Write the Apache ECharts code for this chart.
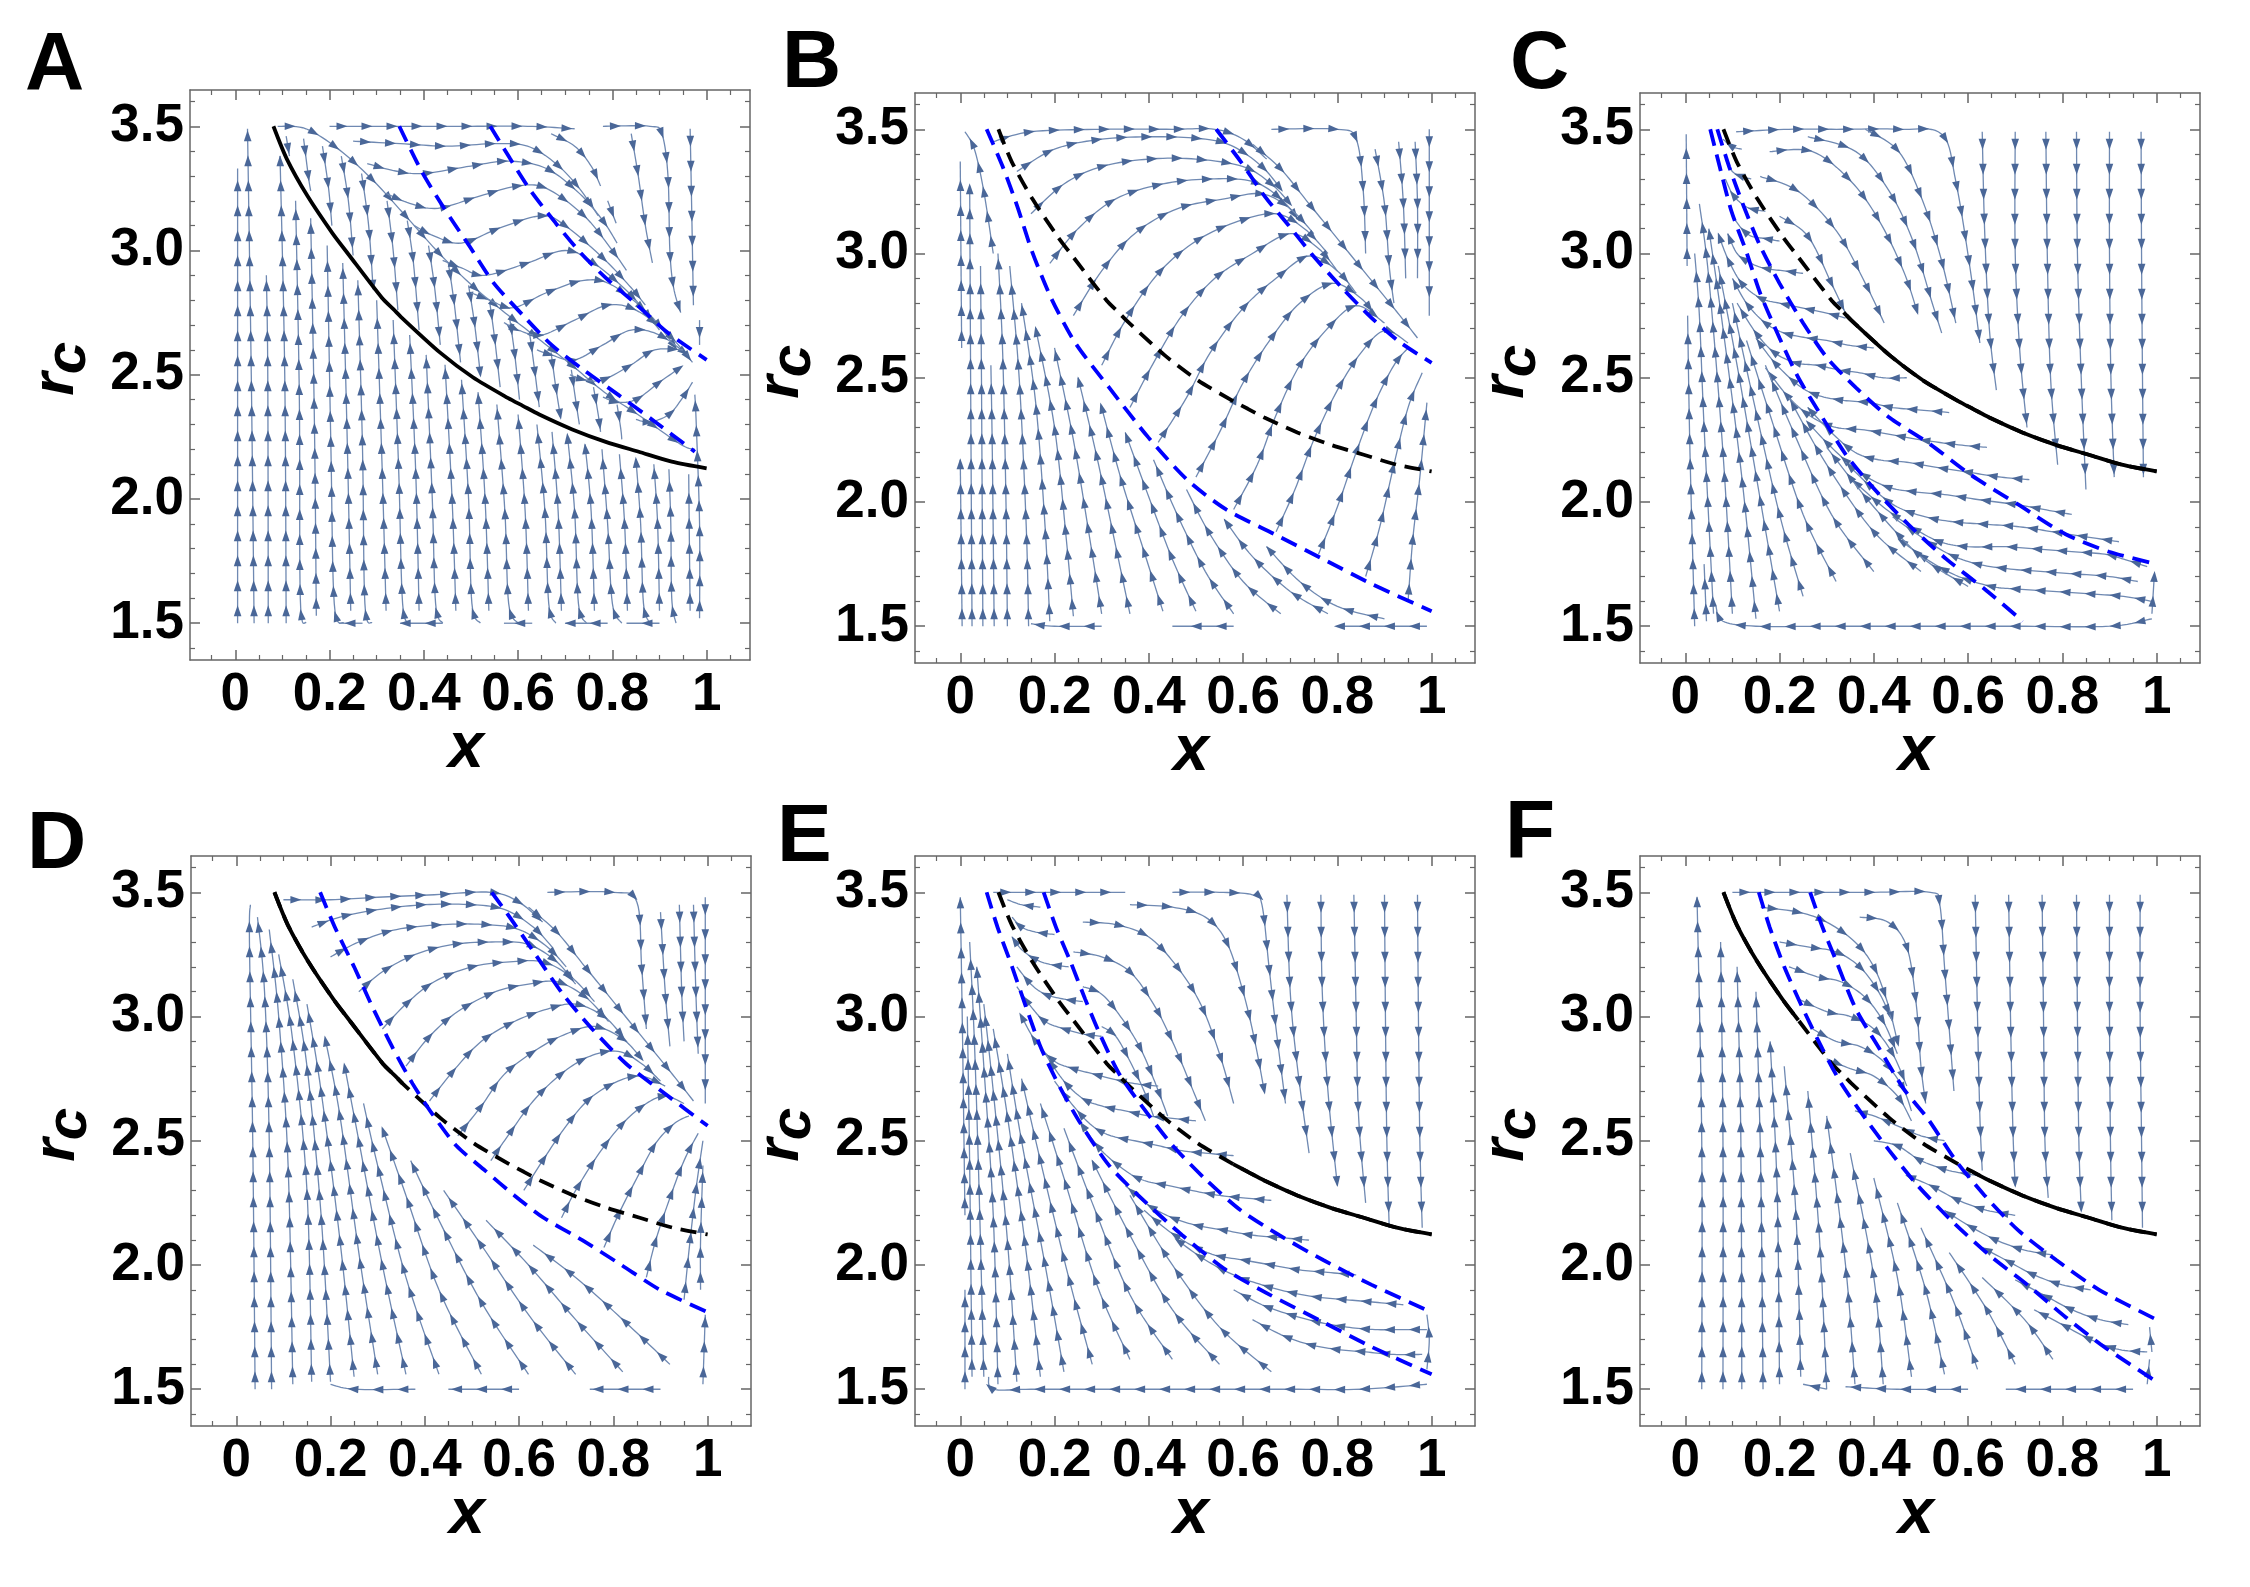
<!DOCTYPE html>
<html>
<head>
<meta charset="utf-8">
<script src="https://cdn.jsdelivr.net/npm/echarts@6.0.0/dist/echarts.min.js"></script>
<style>
  html, body { margin: 0; padding: 0; background: #fff; }
  #main { width: 2250px; height: 1587px; }
</style>
</head>
<body>
<div id="main"></div>
<script>
// axis ticks
var X_TICKS = [0, 0.2, 0.4, 0.6, 0.8, 1];
var X_TICK_LABELS = ['0', '0.2', '0.4', '0.6', '0.8', '1'];
var X_MINOR = [-0.05, 0.05, 0.1, 0.15, 0.25, 0.3, 0.35, 0.45, 0.5, 0.55, 0.65, 0.7, 0.75, 0.85, 0.9, 0.95, 1.05];
var R_TICKS = [1.5, 2.0, 2.5, 3.0, 3.5];
var R_TICK_LABELS = ['1.5', '2.0', '2.5', '3.0', '3.5'];
var R_MINOR = [1.4, 1.6, 1.7, 1.8, 1.9, 2.1, 2.2, 2.3, 2.4, 2.6, 2.7, 2.8, 2.9, 3.1, 3.2, 3.3, 3.4, 3.6];
var PANEL_LABELS = ['A', 'B', 'C', 'D', 'E', 'F'];

// black curve (same in every panel), and where it is drawn solid
var BLACK_X = [0.081, 0.109, 0.153, 0.206, 0.24, 0.311, 0.336, 0.353, 0.434, 0.504, 0.579, 0.61, 0.645, 0.715, 0.786, 0.856, 0.926, 1.0];
var BLACK_R = [3.5, 3.37, 3.22, 3.07, 2.985, 2.81, 2.763, 2.73, 2.59, 2.49, 2.406, 2.375, 2.34, 2.28, 2.23, 2.19, 2.15, 2.123];
var BLACK_SOLID = [[[0.081, 1]], [], [[0.336, 1]], [[0.081, 0.353]], [[0.579, 1]], [[0.081, 0.24], [0.61, 1]]];

// blue dashed curves, "x,r" pairs
var BLUE_A = ['0.348,3.5 0.395,3.32 0.443,3.17 0.496,3.02 0.548,2.87 0.61,2.74 0.671,2.62 0.742,2.515 0.812,2.42 0.891,2.31 0.975,2.19',
  '0.541,3.5 0.583,3.37 0.627,3.24 0.68,3.11 0.733,2.99 0.786,2.89 0.847,2.79 0.917,2.67 1.0,2.56'];
var BLUE_B = ['0.056,3.5 0.09,3.35 0.121,3.19 0.152,3.01 0.193,2.82 0.244,2.64 0.316,2.46 0.399,2.26 0.481,2.09 0.564,1.97 0.667,1.87 0.77,1.77 0.873,1.67 1.0,1.56',
  '0.543,3.5 0.595,3.37 0.646,3.23 0.698,3.11 0.749,2.99 0.811,2.86 0.873,2.74 0.935,2.64 1.0,2.56'];
var BLUE_C = ['0.053,3.5 0.073,3.35 0.098,3.17 0.129,3.01 0.159,2.84 0.2,2.66 0.24,2.5 0.291,2.34 0.341,2.19 0.402,2.05 0.473,1.91 0.554,1.77 0.635,1.65 0.716,1.52',
  '0.068,3.5 0.093,3.35 0.124,3.19 0.159,3.03 0.2,2.88 0.25,2.72 0.301,2.58 0.362,2.46 0.433,2.34 0.514,2.24 0.605,2.11 0.706,1.99 0.807,1.87 0.899,1.8 1.0,1.75'];
var BLUE_D = ['0.178,3.5 0.209,3.36 0.25,3.2 0.291,3.03 0.333,2.87 0.374,2.73 0.415,2.61 0.467,2.48 0.528,2.38 0.59,2.28 0.652,2.19 0.734,2.1 0.817,2.0 0.899,1.9 1.0,1.81',
  '0.542,3.5 0.58,3.4 0.631,3.26 0.693,3.09 0.755,2.95 0.827,2.81 0.909,2.69 1.0,2.56'];
var BLUE_E = ['0.056,3.5 0.079,3.36 0.11,3.2 0.141,3.03 0.172,2.87 0.213,2.71 0.255,2.57 0.316,2.4 0.389,2.26 0.471,2.12 0.564,1.98 0.657,1.88 0.77,1.77 0.873,1.67 1.0,1.56',
  '0.177,3.5 0.203,3.36 0.234,3.22 0.265,3.07 0.296,2.93 0.337,2.77 0.389,2.63 0.451,2.48 0.523,2.34 0.595,2.22 0.677,2.12 0.77,2.02 0.873,1.92 1.0,1.81'];
var BLUE_F = ['0.156,3.5 0.179,3.36 0.21,3.2 0.25,3.03 0.291,2.87 0.331,2.73 0.382,2.59 0.433,2.46 0.493,2.32 0.564,2.18 0.645,2.04 0.726,1.92 0.807,1.79 0.889,1.67 1.0,1.53',
  '0.265,3.5 0.291,3.36 0.321,3.22 0.362,3.03 0.412,2.87 0.463,2.71 0.514,2.59 0.574,2.42 0.635,2.28 0.706,2.14 0.787,2.02 0.878,1.9 1.0,1.78'];

// stream lines, "x,r" pairs in flow order
var STREAMS_A = [
  '0.005,1.5 0.005,3.33', '0.04,1.5 0.034,2.5 0.026,3.49', '0.07,1.5 0.069,2.5 0.066,2.9',
  '0.108,1.5 0.105,2.5 0.095,3.38', '0.15,1.5 0.138,1.6 0.136,2.4 0.128,3.2', '0.172,1.53 0.168,2.3 0.16,3.13',
  '0.23,1.5 0.21,1.58 0.203,2.2 0.195,3.02', '0.245,1.55 0.238,2.2 0.228,2.95', '0.29,1.5 0.275,1.58 0.27,2.2 0.26,2.88',
  '0.32,1.55 0.312,2.1 0.3,2.8', '0.37,1.5 0.355,1.58 0.347,2.1 0.335,2.72', '0.39,1.55 0.383,2.1 0.37,2.66',
  '0.44,1.5 0.425,1.58 0.418,2.0 0.405,2.58', '0.468,1.55 0.46,2.0 0.445,2.54', '0.52,1.5 0.502,1.58 0.495,2.0 0.48,2.48',
  '0.538,1.55 0.53,2.0 0.515,2.43', '0.6,1.5 0.58,1.58 0.572,1.95 0.555,2.38', '0.622,1.55 0.615,1.95 0.6,2.34',
  '0.68,1.5 0.665,1.58 0.657,1.95 0.64,2.3', '0.692,1.55 0.685,1.95 0.672,2.27', '0.745,1.5 0.728,1.58 0.72,1.95 0.705,2.25',
  '0.762,1.55 0.755,1.95 0.742,2.22', '0.82,1.5 0.8,1.58 0.79,1.9 0.778,2.2', '0.832,1.55 0.826,1.9 0.815,2.18',
  '0.88,1.5 0.866,1.58 0.86,1.9 0.85,2.16', '0.9,1.55 0.896,1.9 0.888,2.14', '0.935,1.5 0.926,1.6 0.924,1.9 0.92,2.12',
  '0.965,1.55 0.963,1.9 0.962,2.1', '0.985,1.52 0.985,1.9 0.978,2.3 0.975,2.42',
  '0.27,1.5 0.22,1.5', '0.44,1.5 0.35,1.5', '0.63,1.5 0.57,1.5', '0.79,1.5 0.7,1.5', '0.9,1.5 0.83,1.5',
  '0.108,3.46 0.115,3.38', '0.145,3.45 0.155,3.3 0.16,3.24', '0.185,3.42 0.198,3.25 0.205,3.1',
  '0.225,3.38 0.24,3.2 0.25,2.98', '0.268,3.31 0.283,3.1 0.292,2.86', '0.322,3.2 0.335,3.0 0.345,2.76',
  '0.365,3.12 0.378,2.95 0.39,2.68', '0.41,3.02 0.423,2.85 0.435,2.62', '0.452,2.95 0.465,2.78 0.478,2.55',
  '0.495,2.86 0.508,2.7 0.52,2.5', '0.54,2.79 0.55,2.65 0.562,2.45', '0.582,2.73 0.593,2.58 0.603,2.4',
  '0.625,2.66 0.635,2.52 0.645,2.37', '0.67,2.59 0.68,2.45 0.69,2.33', '0.713,2.52 0.722,2.4 0.73,2.3',
  '0.76,2.45 0.77,2.34 0.775,2.27', '0.81,2.38 0.818,2.28 0.82,2.24',
  '0.09,3.5 0.15,3.49 0.221,3.405 0.291,3.285 0.361,3.14 0.432,2.99 0.502,2.86 0.572,2.75 0.643,2.645 0.713,2.54 0.783,2.43 0.854,2.34 0.945,2.22 0.975,2.2',
  '0.2,3.5 0.35,3.5 0.5,3.5 0.62,3.5 0.72,3.49',
  '0.78,3.5 0.88,3.5 0.905,3.47 0.918,3.3 0.922,3.0 0.93,2.85 0.945,2.75',
  '0.84,3.47 0.855,3.3 0.87,3.1 0.885,2.95', '0.965,3.49 0.968,3.2 0.972,2.78', '0.985,2.72 0.985,2.62',
  '0.67,3.47 0.72,3.42 0.755,3.34 0.775,3.26', '0.79,3.2 0.808,3.11',
  '0.25,3.44 0.35,3.43 0.45,3.42 0.55,3.43 0.62,3.42 0.68,3.35 0.73,3.25 0.77,3.14',
  '0.28,3.35 0.34,3.32 0.4,3.31 0.5,3.34 0.58,3.36 0.66,3.33 0.73,3.23 0.78,3.12 0.81,3.03',
  '0.32,3.23 0.37,3.19 0.43,3.17 0.52,3.22 0.6,3.26 0.66,3.25 0.74,3.14 0.8,3.0 0.83,2.92',
  '0.38,3.1 0.42,3.06 0.48,3.03 0.56,3.09 0.65,3.14 0.7,3.1 0.78,2.97 0.84,2.85 0.87,2.78',
  '0.44,2.96 0.48,2.93 0.53,2.9 0.62,2.95 0.7,3.0 0.76,2.95 0.84,2.82 0.9,2.68',
  '0.5,2.83 0.54,2.8 0.59,2.77 0.66,2.83 0.74,2.88 0.8,2.86 0.88,2.74 0.93,2.62',
  '0.57,2.71 0.6,2.68 0.65,2.66 0.72,2.72 0.79,2.78 0.85,2.76 0.92,2.66 0.97,2.55',
  '0.64,2.6 0.67,2.58 0.72,2.56 0.78,2.62 0.84,2.68 0.9,2.66 0.96,2.58',
  '0.71,2.5 0.74,2.48 0.78,2.48 0.84,2.54 0.89,2.6 0.95,2.6',
  '0.78,2.41 0.81,2.39 0.85,2.4 0.9,2.47 0.945,2.53',
  '0.85,2.32 0.88,2.31 0.92,2.34 0.95,2.41 0.97,2.47'
];
var STREAMS_B = [
  '0.004,1.5 0.0,2.17', '0.003,2.62 0.0,3.37', '0.025,1.5 0.022,2.5 0.02,3.27', '0.048,1.5 0.045,2.5 0.043,2.95',
  '0.07,3.0 0.05,3.25 0.03,3.42 0.01,3.49', '0.072,1.5 0.068,2.2 0.065,2.55', '0.1,1.5 0.097,2.0 0.09,2.6 0.08,3.0',
  '0.145,1.5 0.14,1.9 0.125,2.5 0.105,2.95', '0.19,1.52 0.18,1.9 0.16,2.4 0.13,2.8', '0.24,1.54 0.225,1.85 0.2,2.3 0.16,2.7',
  '0.3,1.55 0.275,1.85 0.24,2.25 0.2,2.62', '0.36,1.55 0.33,1.82 0.29,2.18 0.25,2.5', '0.43,1.56 0.39,1.8 0.34,2.1 0.3,2.38',
  '0.5,1.56 0.45,1.77 0.4,2.02 0.35,2.28', '0.58,1.55 0.52,1.72 0.46,1.95 0.41,2.17', '0.68,1.55 0.6,1.68 0.53,1.87 0.48,2.05',
  '0.78,1.55 0.7,1.64 0.62,1.78 0.56,1.93', '0.9,1.53 0.8,1.58 0.72,1.68 0.65,1.82',
  '0.99,1.5 0.9,1.5 0.8,1.5', '0.58,1.5 0.45,1.5', '0.3,1.5 0.2,1.5 0.15,1.51',
  '0.07,3.45 0.15,3.49 0.3,3.5 0.45,3.5 0.54,3.5 0.6,3.46 0.65,3.38',
  '0.12,3.33 0.2,3.42 0.3,3.46 0.42,3.47 0.52,3.46 0.58,3.43 0.64,3.35 0.68,3.26',
  '0.15,3.16 0.22,3.28 0.3,3.35 0.4,3.38 0.5,3.38 0.6,3.35 0.66,3.28 0.7,3.2',
  '0.19,2.96 0.25,3.1 0.33,3.22 0.43,3.28 0.53,3.3 0.62,3.29 0.68,3.22 0.72,3.13',
  '0.24,2.75 0.3,2.93 0.37,3.08 0.46,3.18 0.56,3.22 0.64,3.24 0.7,3.18 0.75,3.08',
  '0.3,2.55 0.35,2.73 0.42,2.92 0.5,3.05 0.59,3.13 0.67,3.16 0.73,3.1 0.78,3.0',
  '0.36,2.38 0.41,2.56 0.47,2.75 0.54,2.9 0.62,3.0 0.7,3.08 0.76,3.02 0.8,2.93',
  '0.42,2.24 0.48,2.42 0.53,2.6 0.6,2.78 0.67,2.9 0.74,2.99 0.8,2.93 0.84,2.84',
  '0.5,2.1 0.55,2.28 0.6,2.48 0.66,2.66 0.72,2.8 0.79,2.88 0.85,2.82 0.88,2.75',
  '0.58,1.97 0.63,2.15 0.67,2.35 0.72,2.55 0.78,2.7 0.84,2.79 0.9,2.72',
  '0.67,1.88 0.71,2.05 0.75,2.25 0.8,2.45 0.85,2.6 0.9,2.69 0.95,2.64',
  '0.76,1.79 0.8,1.98 0.84,2.2 0.88,2.4 0.92,2.55 0.95,2.62',
  '0.86,1.7 0.89,1.9 0.92,2.15 0.95,2.38 0.98,2.52',
  '0.95,1.6 0.96,1.85 0.975,2.1 0.99,2.4',
  '0.62,3.44 0.68,3.34 0.74,3.2 0.8,3.06 0.86,2.92 0.92,2.78 0.97,2.66',
  '0.66,3.5 0.8,3.5 0.84,3.46 0.855,3.25 0.86,3.0', '0.88,3.42 0.9,3.2 0.91,2.95 0.92,2.8',
  '0.93,3.45 0.94,3.2 0.945,2.9', '0.965,3.45 0.97,3.2 0.97,2.9', '0.995,3.5 0.995,3.1 0.995,2.75'
];
var STREAMS_C = [
  '0.967,3.49 0.968,3.0 0.97,2.5 0.972,2.1', '0.9,3.49 0.9,3.0 0.903,2.5 0.91,2.1', '0.83,3.49 0.832,3.0 0.84,2.5 0.85,2.05',
  '0.765,3.49 0.768,3.0 0.775,2.5 0.79,2.15', '0.7,3.49 0.7,3.0 0.71,2.6 0.725,2.3', '0.63,3.49 0.635,3.1 0.645,2.7 0.66,2.45',
  '0.108,3.49 0.22,3.5 0.321,3.5 0.453,3.5 0.544,3.48 0.574,3.29 0.605,2.93 0.625,2.64',
  '0.382,3.5 0.453,3.41 0.504,3.21 0.544,2.97 0.574,2.72', '0.26,3.47 0.362,3.41 0.433,3.25 0.483,3.05 0.524,2.8 0.544,2.68',
  '0.179,3.41 0.27,3.41 0.352,3.29 0.412,3.13 0.463,2.93 0.493,2.76', '0.159,3.31 0.24,3.25 0.321,3.09 0.382,2.88 0.422,2.72',
  '0.2,3.15 0.26,3.07 0.31,2.88 0.34,2.76',
  '0.34,2.74 0.3,2.76 0.25,2.78 0.2,2.8 0.16,2.82 0.12,2.88 0.09,2.98 0.07,3.08',
  '0.4,2.62 0.35,2.63 0.3,2.65 0.26,2.66 0.21,2.68 0.17,2.72 0.13,2.8 0.1,2.9',
  '0.47,2.5 0.42,2.5 0.37,2.52 0.33,2.53 0.28,2.55 0.235,2.56 0.19,2.6 0.15,2.68 0.11,2.8',
  '0.56,2.36 0.5,2.37 0.44,2.38 0.39,2.4 0.33,2.41 0.28,2.43 0.24,2.47 0.19,2.56 0.15,2.66',
  '0.64,2.22 0.58,2.23 0.5,2.25 0.44,2.27 0.38,2.29 0.32,2.3 0.27,2.34 0.22,2.42 0.17,2.54',
  '0.73,2.09 0.67,2.1 0.6,2.12 0.53,2.14 0.47,2.16 0.41,2.17 0.36,2.2 0.31,2.28 0.26,2.38',
  '0.82,1.95 0.76,1.97 0.7,1.99 0.62,2.01 0.55,2.03 0.49,2.04 0.43,2.06 0.37,2.12 0.31,2.22 0.26,2.32',
  '0.92,1.84 0.85,1.86 0.78,1.88 0.71,1.9 0.64,1.91 0.57,1.92 0.51,1.94 0.45,1.98 0.4,2.05 0.34,2.16',
  '0.98,1.74 0.93,1.77 0.89,1.79 0.82,1.8 0.75,1.81 0.68,1.82 0.6,1.82 0.54,1.84 0.48,1.9 0.42,1.98 0.36,2.08',
  '0.96,1.68 0.9,1.7 0.83,1.71 0.76,1.72 0.69,1.73 0.62,1.75 0.56,1.79 0.5,1.86 0.44,1.94',
  '0.99,1.6 0.93,1.62 0.86,1.63 0.78,1.64 0.7,1.65 0.65,1.66 0.58,1.7 0.52,1.76 0.46,1.84',
  '0.25,2.92 0.21,2.93 0.17,2.94 0.14,2.96 0.11,3.0 0.09,3.08', '0.2,3.05 0.17,3.06 0.14,3.07 0.12,3.1 0.1,3.15',
  '0.17,3.17 0.14,3.18 0.12,3.2 0.1,3.24 0.085,3.3', '0.14,3.3 0.12,3.31 0.1,3.33 0.085,3.38', '0.12,3.42 0.1,3.43 0.08,3.46',
  '0.99,1.53 0.9,1.5 0.7,1.5 0.5,1.5 0.3,1.5 0.15,1.5 0.08,1.52 0.065,1.58', '0.99,1.55 0.995,1.7',
  '0.02,1.5 0.01,2.2 0.005,2.75', '0.004,2.95 0.002,3.48', '0.045,1.52 0.04,1.75', '0.06,1.55 0.04,2.3 0.03,2.75 0.02,3.0',
  '0.1,1.55 0.08,2.2 0.05,2.9 0.03,3.2', '0.15,1.53 0.12,2.1 0.08,2.7 0.05,3.1', '0.2,1.56 0.16,2.0 0.11,2.55 0.07,2.95',
  '0.25,1.62 0.2,1.95 0.14,2.45 0.1,2.8', '0.32,1.68 0.25,1.95 0.18,2.35 0.13,2.65', '0.4,1.72 0.31,1.95 0.23,2.28 0.17,2.55',
  '0.5,1.72 0.4,1.88 0.3,2.15 0.22,2.42', '0.6,1.66 0.5,1.78 0.4,1.98 0.3,2.22'
];
var STREAMS_D = [
  '0.04,1.5 0.035,2.5 0.028,3.3 0.03,3.45', '0.075,1.5 0.07,2.5 0.06,3.1 0.045,3.4', '0.12,1.52 0.11,2.4 0.09,3.0 0.07,3.35',
  '0.16,1.53 0.15,2.3 0.12,2.9 0.09,3.25', '0.2,1.53 0.18,2.2 0.15,2.8 0.12,3.15', '0.25,1.55 0.22,2.1 0.18,2.7 0.15,3.05',
  '0.3,1.56 0.26,2.05 0.22,2.6 0.19,2.9', '0.36,1.56 0.31,2.0 0.26,2.5 0.23,2.8', '0.43,1.56 0.36,1.95 0.3,2.4 0.27,2.65',
  '0.52,1.56 0.43,1.9 0.36,2.28 0.31,2.55', '0.62,1.56 0.52,1.85 0.43,2.18 0.37,2.42', '0.72,1.56 0.62,1.8 0.52,2.08 0.44,2.3',
  '0.82,1.57 0.72,1.78 0.62,2.0 0.53,2.18', '0.92,1.6 0.82,1.78 0.72,1.95 0.63,2.08',
  '0.9,1.5 0.75,1.5', '0.6,1.5 0.45,1.5', '0.38,1.5 0.25,1.5 0.2,1.52', '0.99,1.52 0.995,1.8', '0.985,1.9 0.985,2.1 0.99,2.4',
  '0.1,3.47 0.2,3.47 0.3,3.48 0.42,3.49 0.54,3.5 0.6,3.46 0.65,3.38',
  '0.16,3.36 0.22,3.4 0.3,3.43 0.4,3.45 0.5,3.45 0.57,3.43 0.63,3.36 0.67,3.28',
  '0.2,3.24 0.26,3.3 0.34,3.35 0.44,3.37 0.53,3.37 0.6,3.35 0.66,3.28 0.7,3.2',
  '0.26,3.1 0.31,3.18 0.38,3.25 0.46,3.29 0.55,3.3 0.62,3.29 0.68,3.22 0.72,3.13',
  '0.31,2.95 0.36,3.05 0.42,3.14 0.5,3.2 0.58,3.22 0.65,3.22 0.71,3.16 0.76,3.06',
  '0.36,2.8 0.41,2.92 0.47,3.02 0.55,3.1 0.62,3.13 0.68,3.14 0.74,3.08 0.79,2.98',
  '0.41,2.66 0.46,2.78 0.52,2.9 0.59,2.98 0.66,3.03 0.72,3.05 0.78,3.0 0.82,2.92',
  '0.47,2.52 0.52,2.64 0.57,2.77 0.64,2.87 0.7,2.93 0.76,2.96 0.82,2.91 0.86,2.83',
  '0.54,2.42 0.58,2.53 0.63,2.66 0.69,2.77 0.75,2.84 0.81,2.86 0.86,2.81 0.9,2.74',
  '0.61,2.3 0.65,2.42 0.7,2.56 0.75,2.67 0.81,2.74 0.86,2.76 0.91,2.72',
  '0.69,2.19 0.72,2.3 0.77,2.45 0.82,2.57 0.87,2.65 0.91,2.68 0.95,2.65',
  '0.78,2.07 0.81,2.2 0.85,2.35 0.89,2.49 0.93,2.57 0.96,2.6', '0.87,1.95 0.89,2.1 0.92,2.27 0.95,2.42 0.98,2.53',
  '0.95,1.86 0.96,2.05 0.975,2.3 0.99,2.5',
  '0.62,3.44 0.68,3.34 0.74,3.2 0.8,3.06 0.86,2.92 0.92,2.78 0.97,2.66',
  '0.66,3.5 0.8,3.5 0.85,3.46 0.86,3.2 0.87,2.95', '0.9,3.42 0.91,3.1 0.92,2.88', '0.94,3.45 0.945,3.1 0.95,2.9',
  '0.97,3.45 0.975,3.1 0.98,2.85', '0.995,3.48 0.995,3.1 0.995,2.65'
];
var STREAMS_E = [
  '0.97,3.49 0.972,3.0 0.975,2.5 0.98,2.15', '0.9,3.49 0.902,3.0 0.905,2.5 0.91,2.15', '0.835,3.49 0.84,3.0 0.845,2.6 0.86,2.25',
  '0.765,3.49 0.768,3.1 0.78,2.7 0.8,2.32', '0.693,3.49 0.7,3.1 0.715,2.8 0.74,2.45',
  '0.45,3.5 0.55,3.5 0.62,3.49 0.64,3.45 0.655,3.2 0.67,2.95 0.69,2.65',
  '0.36,3.45 0.45,3.44 0.52,3.4 0.565,3.3 0.6,3.1 0.625,2.9 0.645,2.7',
  '0.26,3.38 0.33,3.37 0.4,3.32 0.46,3.2 0.51,3.05 0.55,2.85 0.58,2.65', '0.07,3.5 0.2,3.5 0.3,3.5 0.35,3.5',
  '0.24,3.26 0.3,3.24 0.36,3.18 0.41,3.05 0.45,2.9 0.49,2.72 0.52,2.58',
  '0.26,3.12 0.3,3.09 0.34,3.0 0.38,2.88 0.41,2.75 0.44,2.6', '0.3,2.96 0.33,2.92 0.36,2.82 0.39,2.7 0.41,2.6',
  '0.42,2.72 0.37,2.73 0.32,2.75 0.28,2.77 0.24,2.79 0.2,2.82 0.16,2.9 0.13,3.0',
  '0.5,2.58 0.45,2.59 0.4,2.6 0.35,2.62 0.3,2.64 0.26,2.67 0.22,2.74 0.18,2.85',
  '0.58,2.44 0.52,2.45 0.47,2.46 0.42,2.48 0.37,2.5 0.32,2.52 0.28,2.56 0.24,2.64 0.2,2.74',
  '0.66,2.26 0.6,2.27 0.55,2.28 0.49,2.3 0.44,2.32 0.39,2.34 0.35,2.38 0.3,2.46 0.26,2.56',
  '0.74,2.1 0.68,2.11 0.62,2.12 0.56,2.14 0.5,2.16 0.45,2.19 0.4,2.24 0.35,2.32',
  '0.84,1.96 0.78,1.97 0.72,1.98 0.66,2.0 0.6,2.02 0.54,2.04 0.49,2.08 0.44,2.14 0.39,2.22',
  '0.94,1.84 0.88,1.85 0.82,1.86 0.76,1.87 0.7,1.89 0.64,1.92 0.58,1.96 0.52,2.02 0.46,2.1',
  '0.99,1.74 0.94,1.74 0.88,1.74 0.82,1.75 0.76,1.77 0.7,1.8 0.64,1.84 0.58,1.9',
  '0.98,1.64 0.92,1.64 0.86,1.65 0.8,1.66 0.74,1.68 0.68,1.72 0.62,1.78',
  '0.3,2.92 0.26,2.93 0.22,2.95 0.18,2.98 0.15,3.04 0.12,3.12', '0.26,3.06 0.22,3.07 0.18,3.09 0.15,3.13 0.12,3.2',
  '0.23,3.2 0.19,3.21 0.16,3.23 0.13,3.27 0.11,3.32', '0.2,3.33 0.16,3.34 0.13,3.36 0.11,3.4', '0.17,3.44 0.13,3.45 0.1,3.47',
  '0.99,1.52 0.85,1.5 0.7,1.5 0.5,1.5 0.3,1.5 0.15,1.5 0.07,1.5 0.06,1.55', '0.99,1.58 0.995,1.7 0.99,1.8',
  '0.01,1.5 0.01,1.9', '0.01,2.2 0.005,2.9 0.0,3.48', '0.025,1.55 0.02,2.4 0.015,3.0', '0.05,1.55 0.04,2.3 0.03,2.9 0.02,3.3',
  '0.08,1.52 0.07,2.2 0.05,2.8 0.035,3.2', '0.12,1.53 0.1,2.1 0.07,2.7 0.05,3.05', '0.17,1.55 0.14,2.05 0.1,2.6 0.07,2.95',
  '0.22,1.57 0.18,2.0 0.13,2.5 0.1,2.85', '0.28,1.6 0.23,1.95 0.17,2.42 0.13,2.75', '0.36,1.62 0.29,1.92 0.22,2.35 0.17,2.65',
  '0.45,1.62 0.36,1.88 0.28,2.25 0.22,2.55', '0.55,1.6 0.45,1.82 0.36,2.12 0.28,2.42', '0.66,1.57 0.55,1.75 0.45,2.0 0.36,2.28'
];
var STREAMS_F = [
  '0.035,1.5 0.035,2.5 0.025,3.48', '0.08,1.5 0.08,2.5 0.075,3.3', '0.12,1.5 0.118,2.5 0.11,3.2', '0.165,1.5 0.16,2.4 0.15,3.1',
  '0.2,1.52 0.195,2.3 0.18,2.9', '0.245,1.55 0.235,2.2 0.21,2.8', '0.3,1.5 0.285,2.1 0.26,2.7', '0.36,1.52 0.34,2.0 0.3,2.6',
  '0.42,1.52 0.4,1.95 0.35,2.45', '0.48,1.55 0.45,1.95 0.4,2.35', '0.55,1.56 0.51,1.9 0.45,2.25', '0.62,1.58 0.57,1.85 0.5,2.15',
  '0.7,1.6 0.64,1.82 0.56,2.05', '0.78,1.62 0.72,1.78 0.63,1.95',
  '0.95,1.5 0.8,1.5 0.68,1.5', '0.6,1.5 0.45,1.5 0.34,1.51', '0.3,1.5 0.25,1.52', '0.98,1.52 0.985,1.62', '0.99,1.65 0.985,1.75',
  '0.965,3.49 0.965,3.0 0.968,2.5 0.97,2.15', '0.9,3.49 0.9,3.0 0.902,2.5 0.905,2.18', '0.83,3.49 0.832,3.0 0.835,2.5 0.84,2.22',
  '0.757,3.49 0.76,3.0 0.763,2.5 0.77,2.27', '0.686,3.49 0.69,3.0 0.695,2.55 0.7,2.32', '0.615,3.49 0.62,3.0 0.625,2.6 0.63,2.38',
  '0.1,3.5 0.25,3.5 0.4,3.5 0.52,3.5 0.54,3.45 0.55,3.2 0.56,2.95 0.57,2.7',
  '0.37,3.4 0.43,3.38 0.47,3.28 0.49,3.05 0.5,2.8 0.51,2.65',
  '0.16,3.44 0.24,3.42 0.3,3.38 0.36,3.3 0.4,3.2 0.43,3.05 0.45,2.9',
  '0.2,3.3 0.26,3.28 0.32,3.26 0.37,3.2 0.41,3.1 0.44,2.98', '0.22,3.2 0.28,3.16 0.33,3.14 0.38,3.08 0.42,2.98 0.45,2.85',
  '0.24,3.07 0.3,3.02 0.35,3.0 0.4,2.95 0.44,2.85 0.47,2.72', '0.27,2.95 0.32,2.9 0.37,2.88 0.42,2.82 0.46,2.72 0.48,2.62',
  '0.3,2.83 0.35,2.79 0.4,2.76 0.45,2.68 0.48,2.58',
  '0.55,2.5 0.5,2.52 0.45,2.56 0.4,2.6 0.36,2.62', '0.62,2.36 0.56,2.38 0.5,2.42 0.45,2.48 0.4,2.5',
  '0.7,2.2 0.64,2.22 0.58,2.26 0.52,2.32 0.47,2.36', '0.78,2.04 0.72,2.06 0.66,2.1 0.6,2.16 0.55,2.22',
  '0.86,1.9 0.8,1.92 0.74,1.96 0.68,2.02 0.62,2.08', '0.94,1.76 0.88,1.78 0.82,1.82 0.76,1.88 0.7,1.94',
  '0.98,1.65 0.92,1.66 0.86,1.7 0.8,1.76 0.74,1.82'
];

var STREAMS = [STREAMS_A, STREAMS_B, STREAMS_C, STREAMS_D, STREAMS_E, STREAMS_F];
var BLUES = [BLUE_A, BLUE_B, BLUE_C, BLUE_D, BLUE_E, BLUE_F];

// layout
var XMIN = -0.096, XMAX = 1.092, RMIN = 1.352, RMAX = 3.646;
var GRID_LEFT = [190, 915, 1640, 191, 915, 1640];
var GRID_TOP = [90, 93, 93, 856, 856, 856];
var GW = 560, GH = 570;
var LETTER_POS = [[25, 66], [782, 64], [1510, 65], [27, 845], [777, 838], [1505, 835]];
var FONT = 'Liberation Sans';
var frameColor = '#666666';
var streamColor = '#6f89b2';
var arrowColor = '#4a6798';

function parse(s) {
    return s.trim().split(/\s+/).map(function (p) { return p.split(',').map(Number); });
}
var streamPts = STREAMS.map(function (list) { return list.map(parse); });

// catmull-rom through the pixel points so the lines come out smooth
function smoothPath(pts) {
    if (pts.length < 3) return pts;
    var out = [];
    for (var i = 0; i < pts.length - 1; i++) {
        var p0 = pts[Math.max(i - 1, 0)], p1 = pts[i], p2 = pts[i + 1], p3 = pts[Math.min(i + 2, pts.length - 1)];
        for (var s = 0; s < 10; s++) {
            var t = s / 10, t2 = t * t, t3 = t2 * t;
            out.push([0, 1].map(function (d) {
                return 0.5 * (2 * p1[d] + (-p0[d] + p2[d]) * t + (2 * p0[d] - 5 * p1[d] + 4 * p2[d] - p3[d]) * t2 + (-p0[d] + 3 * p1[d] - 3 * p2[d] + p3[d]) * t3);
            }));
        }
    }
    out.push(pts[pts.length - 1]);
    return out;
}

function arrowHead(cx, cy, ux, uy) {
    var bx = cx - ux * 5, by = cy - uy * 5;
    return {
        type: 'polygon',
        shape: { points: [[cx + ux * 6, cy + uy * 6], [bx - uy * 3.8, by + ux * 3.8], [bx + uy * 3.8, by - ux * 3.8]] },
        style: { fill: arrowColor }
    };
}

function makeRender(lines) {
    return function (params, api) {
        var k = api.value(2);
        var px = lines[k].map(function (p) { return api.coord(p); });
        var path = smoothPath(px);
        var children = [{ type: 'polyline', shape: { points: path }, style: { stroke: streamColor, lineWidth: 1.3, fill: null } }];
        var acc = 0, next = 12;
        for (var i = 1; i < path.length; i++) {
            var a = path[i - 1], b = path[i];
            var dx = b[0] - a[0], dy = b[1] - a[1], L = Math.sqrt(dx * dx + dy * dy);
            if (!L) continue;
            while (acc + L >= next) {
                var t = (next - acc) / L;
                children.push(arrowHead(a[0] + dx * t, a[1] + dy * t, dx / L, dy / L));
                next += 25;
            }
            acc += L;
        }
        return { type: 'group', children: children };
    };
}

function tickLabel(list, labels) {
    return function (v) {
        for (var i = 0; i < list.length; i++) if (Math.abs(list[i] - v) < 1e-9) return labels[i];
        return '';
    };
}

var option = {
    animation: false,
    backgroundColor: '#ffffff',
    grid: [], xAxis: [], yAxis: [], series: [], graphic: []
};

for (var i = 0; i < 6; i++) {
    option.grid.push({ left: GRID_LEFT[i], top: GRID_TOP[i], width: GW, height: GH });
    var lineOn = { show: true, onZero: false, lineStyle: { color: frameColor, width: 1.5 } };
    var lineOff = { show: false, onZero: false };
    var major = function (vals) { return { show: true, inside: true, length: 10, customValues: vals, lineStyle: { color: frameColor, width: 1.5 } }; };
    var minor = function (vals) { return { show: true, inside: true, length: 5, customValues: vals, lineStyle: { color: frameColor, width: 1.2 } }; };
    var labelStyle = { fontFamily: FONT, fontWeight: 'bold', fontSize: 53, color: '#000' };
    var xb = { gridIndex: i, type: 'value', min: XMIN, max: XMAX, splitLine: { show: false }, axisLabel: { show: false } };
    var yb = { gridIndex: i, type: 'value', min: RMIN, max: RMAX, splitLine: { show: false }, axisLabel: { show: false } };

    option.xAxis.push(
        Object.assign({}, xb, { position: 'bottom', axisLine: lineOn, axisTick: major(X_TICKS),
            axisLabel: Object.assign({ show: true, customValues: X_TICKS, formatter: tickLabel(X_TICKS, X_TICK_LABELS), margin: 9 }, labelStyle) }),
        Object.assign({}, xb, { position: 'bottom', axisLine: lineOff, axisTick: minor(X_MINOR) }),
        Object.assign({}, xb, { position: 'top', axisLine: lineOn, axisTick: major(X_TICKS) }),
        Object.assign({}, xb, { position: 'top', axisLine: lineOff, axisTick: minor(X_MINOR) })
    );
    option.yAxis.push(
        Object.assign({}, yb, { position: 'left', axisLine: lineOn, axisTick: major(R_TICKS),
            axisLabel: Object.assign({ show: true, customValues: R_TICKS, formatter: tickLabel(R_TICKS, R_TICK_LABELS), margin: 6 }, labelStyle) }),
        Object.assign({}, yb, { position: 'left', axisLine: lineOff, axisTick: minor(R_MINOR) }),
        Object.assign({}, yb, { position: 'right', axisLine: lineOn, axisTick: major(R_TICKS) }),
        Object.assign({}, yb, { position: 'right', axisLine: lineOff, axisTick: minor(R_MINOR) })
    );

    var ax = { xAxisIndex: 4 * i, yAxisIndex: 4 * i };
    var lines = streamPts[i];
    option.series.push(Object.assign({
        type: 'custom', silent: true, z: 1,
        renderItem: makeRender(lines),
        encode: { x: 0, y: 1 },
        data: lines.map(function (s, k) { return [s[0][0], s[0][1], k]; })
    }, ax));

    var blackAll = BLACK_X.map(function (x, j) { return [x, BLACK_R[j]]; });
    var solid = BLACK_SOLID[i];
    var anyDashed = !(solid.length === 1 && solid[0][0] <= BLACK_X[0] && solid[0][1] >= 1);
    if (anyDashed) {
        option.series.push(Object.assign({
            type: 'line', data: blackAll, showSymbol: false, symbol: 'none', smooth: 0.25, silent: true, z: 3,
            lineStyle: { color: '#000', width: 3.8, type: [16, 9] }
        }, ax));
    }
    solid.forEach(function (rg) {
        option.series.push(Object.assign({
            type: 'line', showSymbol: false, symbol: 'none', smooth: 0.25, silent: true, z: 4,
            data: blackAll.filter(function (p) { return p[0] >= rg[0] - 1e-9 && p[0] <= rg[1] + 1e-9; }),
            lineStyle: { color: '#000', width: 3.8 }
        }, ax));
    });
    BLUES[i].forEach(function (s) {
        option.series.push(Object.assign({
            type: 'line', data: parse(s), showSymbol: false, symbol: 'none', smooth: 0.25, silent: true, z: 5,
            lineStyle: { color: '#0000ff', width: 3.8, type: [17, 9] }
        }, ax));
    });

    var gl = GRID_LEFT[i], gt = GRID_TOP[i], mid = gt + GH / 2;
    option.graphic.push(
        { type: 'text', x: LETTER_POS[i][0], y: LETTER_POS[i][1], silent: true,
          style: { text: PANEL_LABELS[i], fontFamily: FONT, fontWeight: 'bold', fontSize: 82, fill: '#000', align: 'left', verticalAlign: 'middle' } },
        { type: 'text', x: gl + GW / 2 - 4, y: gt + GH + 89, silent: true,
          style: { text: 'x', fontFamily: FONT, fontWeight: 'bold', fontStyle: 'italic', fontSize: 64, fill: '#000', align: 'center', verticalAlign: 'middle' } },
        { type: 'text', x: gl - 134, y: mid + 9, rotation: Math.PI / 2, silent: true,
          style: { text: 'r', fontFamily: FONT, fontWeight: 'bold', fontStyle: 'italic', fontSize: 60, fill: '#000', align: 'center', verticalAlign: 'middle' } },
        { type: 'text', x: gl - 121, y: mid - 17, rotation: Math.PI / 2, silent: true,
          style: { text: 'c', fontFamily: FONT, fontWeight: 'bold', fontStyle: 'italic', fontSize: 58, fill: '#000', align: 'center', verticalAlign: 'middle' } }
    );
}

var myChart = echarts.init(document.getElementById('main'));
myChart.setOption(option);
</script>
</body>
</html>
